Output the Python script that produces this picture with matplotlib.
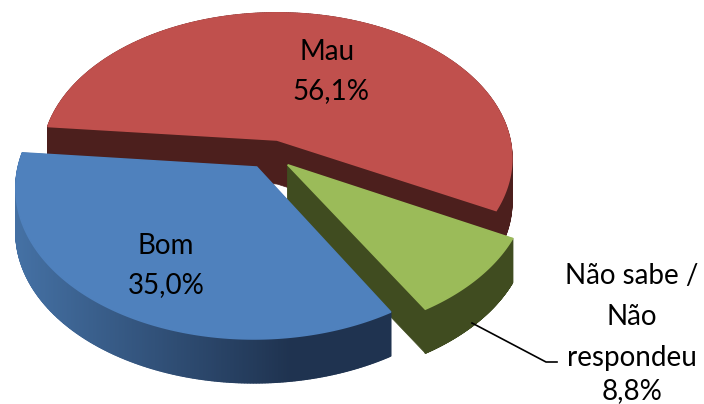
import numpy as np
import matplotlib
matplotlib.use('Agg')
import matplotlib.pyplot as plt
from matplotlib.collections import PolyCollection
from matplotlib.colors import to_rgb

# values, clockwise from the start angle
names = ['Mau', 'Não sabe /\nNão\nrespondeu', 'Bom']
shares = [56.1, 8.8, 35.0]

top_colours = ['#c0504d', '#9bbb59', '#4f81bd']
side_colours = ['#4c1f1d', '#404c20', '#1f3350']

# perspective of the fake 3D disc, in pixels
CX, CY = 277, 140
RX, RY = 233, 143
PERSP = 0.125
DEPTH = 44
START = 174.5
offsets = [(0, 0), (0.045, -0.17), (-0.085, -0.185)]


def project(u, v):
    s = 1 / (1 + PERSP * v)
    return CX + RX * u * s, CY - RY * v * s


def slice_outline(a0, a1, off):
    ang = np.radians(np.linspace(a0, a1, 400))
    return off[0] + np.cos(ang), off[1] + np.sin(ang)


def draw_slice(ax, a0, a1, off, top, side, gradient=False):
    u, v = slice_outline(a0, a1, off)
    x, y = project(u, v)
    ax0, ay0 = project(off[0], off[1])
    # radial cut faces
    for xe, ye in [(x[0], y[0]), (x[-1], y[-1])]:
        ax.fill([ax0, xe, xe, ax0],
                [ay0, ye, ye + DEPTH, ay0 + DEPTH],
                color=side, lw=0.5, zorder=2)
    # outer wall
    quads = [[(x[i], y[i]), (x[i + 1], y[i + 1]),
              (x[i + 1], y[i + 1] + DEPTH), (x[i], y[i] + DEPTH)]
             for i in range(len(x) - 1)]
    if gradient:
        light = np.array(to_rgb('#4470a3'))
        dark = np.array(to_rgb(side))
        t = np.clip((x[:-1] - 20) / 270, 0, 1)[:, None]
        cols = light * (1 - t) + dark * t
    else:
        cols = side
    ax.add_collection(PolyCollection(quads, facecolors=cols, edgecolors=cols,
                                     linewidths=1.0, zorder=2))
    # top face, its edge hides the wall's outline
    ax.fill(np.r_[ax0, x], np.r_[ay0, y], color=top, lw=1.2, zorder=2)


fig, ax = plt.subplots(1, figsize=[7.04, 4.04], dpi=100)
fig.subplots_adjust(0, 0, 1, 1)
ax.set_xlim(0, 704)
ax.set_ylim(404, 0)
ax.axis('off')

angle = START
for i in range(len(shares)):
    sweep = shares[i] / sum(shares) * 360
    draw_slice(ax, angle, angle - sweep, offsets[i], top_colours[i],
               side_colours[i], gradient=names[i] == 'Bom')
    angle -= sweep

font = dict(family='Lato', fontsize=20, color='black',
            ha='center', va='center', zorder=5)


def pct(value):
    return f'{value:.1f}%'.replace('.', ',')


ax.text(327, 52, names[0], **font)
ax.text(331, 91, pct(shares[0]), **font)
ax.text(166, 246, names[2], **font)
ax.text(166, 285, pct(shares[2]), **font)
for line, y in zip(names[1].split('\n') + [pct(shares[1])],
                   [276, 317, 358, 391]):
    ax.text(632, y, line, **font)

ax.plot([472, 546, 557], [323, 362, 362], color='black', lw=1.2, zorder=4)

plt.savefig('out.png', dpi=100)
plt.close(fig)
